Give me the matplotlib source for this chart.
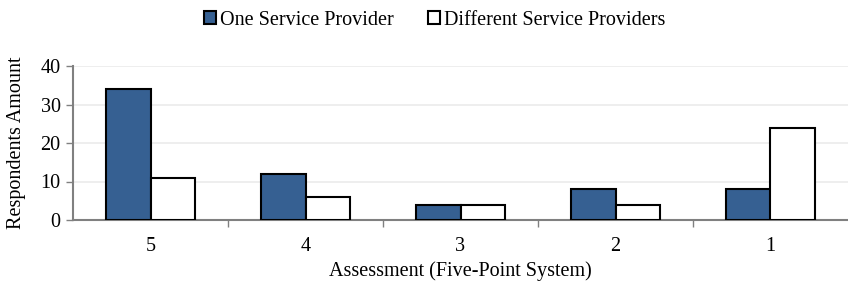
import numpy as np
import matplotlib.pyplot as plt

categories = ["5", "4", "3", "2", "1"]
one_provider = [34, 12, 4, 8, 8]
different_providers = [11, 6, 4, 4, 24]

plt.rcParams["font.family"] = ["Liberation Serif", "DejaVu Serif"]
fs = 14.5

fig = plt.figure(figsize=(8.48, 2.86), dpi=100)
ax = fig.add_axes([73 / 848, 66 / 286, 775 / 848, 154 / 286])

x = np.arange(len(categories))
w = 0.29
ax.bar(x - w / 2, one_provider, w, color="#366092", edgecolor="black", linewidth=1.5,
       label="One Service Provider", zorder=3)
ax.bar(x + w / 2, different_providers, w, color="white", edgecolor="black", linewidth=1.5,
       label="Different Service Providers", zorder=3)

ax.set_xlim(-0.5, len(categories) - 0.5)
ax.set_ylim(0, 40)
ax.set_yticks([0, 10, 20, 30, 40])
ax.set_xticks(x)
ax.set_xticklabels(categories)
ax.set_xticks(np.arange(0.5, len(categories) - 0.5, 1), minor=True)
ax.tick_params(axis="x", which="major", length=0, pad=12, labelsize=fs)
ax.tick_params(axis="x", which="minor", length=5, color="#808080", width=1)
ax.tick_params(axis="y", length=5, color="#808080", width=1, labelsize=fs, pad=4)
ax.yaxis.grid(True, color="#ebebeb", linewidth=1.2, zorder=0)

for s in ["top", "right"]:
    ax.spines[s].set_visible(False)
for s in ["left", "bottom"]:
    ax.spines[s].set_color("#808080")
    ax.spines[s].set_linewidth(1.5)

ax.set_xlabel("Assessment (Five-Point System)", fontsize=fs, labelpad=4)
ax.set_ylabel("Respondents Amount", fontsize=fs, labelpad=10)

fig.legend(loc="upper center", bbox_to_anchor=(0.513, 1.025), ncol=2, frameon=False,
           fontsize=fs, handlelength=0.6, handleheight=0.6, handletextpad=0.2,
           columnspacing=1.7)

fig.savefig("out.png", dpi=100)
